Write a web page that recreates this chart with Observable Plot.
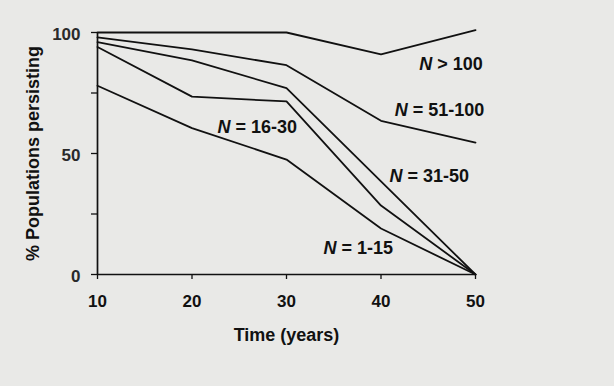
<!DOCTYPE html>
<html>
<head>
<meta charset="utf-8">
<script src="https://cdn.jsdelivr.net/npm/d3@7"></script>
<script src="https://cdn.jsdelivr.net/npm/@observablehq/plot@0.6"></script>
<style>
  html, body { margin: 0; padding: 0; background: #e9e9e7; }
  #chart svg { display: block; }
</style>
</head>
<body>
<div id="chart"></div>
<script>
// Time (years)
const years = [10, 20, 30, 40, 50];
// % populations persisting, by population size class
const seriesNames = ["N > 100", "N = 51-100", "N = 31-50", "N = 16-30", "N = 1-15"];
const nOver100 = [100, 100, 100, 91, 101];
const n51to100 = [98, 93, 86.5, 63.5, 54.5];
const n31to50  = [96, 88.5, 77, 38.5, 0];
const n16to30  = [94, 73.5, 71.5, 28.5, 0];
const n1to15   = [78, 60.5, 47.5, 19, 0];
const seriesValues = [nOver100, n51to100, n31to50, n16to30, n1to15];

// tick values
const xTicks = [10, 20, 30, 40, 50];
const yTicks = [0, 25, 50, 75, 100];
const yTickLabels = [0, 50, 100];

// in-plot series labels (data coordinates)
const labelNames = ["N > 100", "N = 51-100", "N = 16-30", "N = 31-50", "N = 1-15"];
const labelX = [47.4, 46.2, 26.9, 45.1, 37.6];
const labelY = [87, 68, 61, 40.6, 11];

const rows = seriesNames.flatMap((s, i) =>
  years.map((t, j) => ({series: s, time: t, value: seriesValues[i][j]})));
const labels = labelNames.map((s, i) => ({text: s, x: labelX[i], y: labelY[i]}));

const chart = Plot.plot({
  width: 614,
  height: 386,
  marginLeft: 97,
  marginRight: 139,
  marginTop: 32,
  marginBottom: 112,
  style: {background: "#e9e9e7", fontFamily: "'Liberation Sans', Arial, Helvetica, sans-serif", color: "#111"},
  x: {domain: [10, 50]},
  y: {domain: [0, 100]},
  marks: [
    Plot.axisY({
      ticks: yTicks, tickSize: 6, tickFormat: () => "", stroke: "#111", strokeWidth: 1.3,
      label: "% Populations persisting", labelAnchor: "center", labelOffset: 71, labelArrow: "none"
    }),
    Plot.axisY({
      ticks: yTickLabels, tickSize: 0, tickPadding: 17, dy: 2, label: null,
      tickFormat: d => String(d), fontSize: 17, fontWeight: "bold", fill: "#2a2a2a"
    }),
    Plot.axisX({
      ticks: xTicks, tickSize: 5, tickPadding: 15,
      tickFormat: d => String(d),
      fontSize: 17, fontWeight: "bold", fill: "#111", stroke: "#111", strokeWidth: 1.3,
      label: "Time (years)", labelAnchor: "center", labelOffset: 66, labelArrow: "none"
    }),
    Plot.ruleY([0], {stroke: "#111", strokeWidth: 1.7}),
    Plot.ruleX([10], {stroke: "#111", strokeWidth: 1.7}),
    Plot.line(rows, {x: "time", y: "value", z: "series", stroke: "#111", strokeWidth: 1.8, strokeLinejoin: "miter"}),
    Plot.text(labels, {x: "x", y: "y", text: "text", fontSize: 18, fontWeight: "bold", fill: "#111",
      textAnchor: "middle", lineAnchor: "middle", className: "serieslabel"})
  ]
});

// axis-title fonts
chart.querySelectorAll("[aria-label='y-axis label'] text, [aria-label='x-axis label'] text").forEach(t => {
  t.setAttribute("font-size", 18);
  t.setAttribute("font-weight", "bold");
  t.setAttribute("fill", "#111");
});
// italic N in the series labels
chart.querySelectorAll(".serieslabel text").forEach(t => {
  const s = t.textContent;
  t.textContent = "";
  const n = document.createElementNS("http://www.w3.org/2000/svg", "tspan");
  n.setAttribute("font-style", "italic");
  n.textContent = s.slice(0, 1);
  t.appendChild(n);
  t.appendChild(document.createTextNode(s.slice(1)));
});
document.getElementById("chart").appendChild(chart);
</script>
</body>
</html>
